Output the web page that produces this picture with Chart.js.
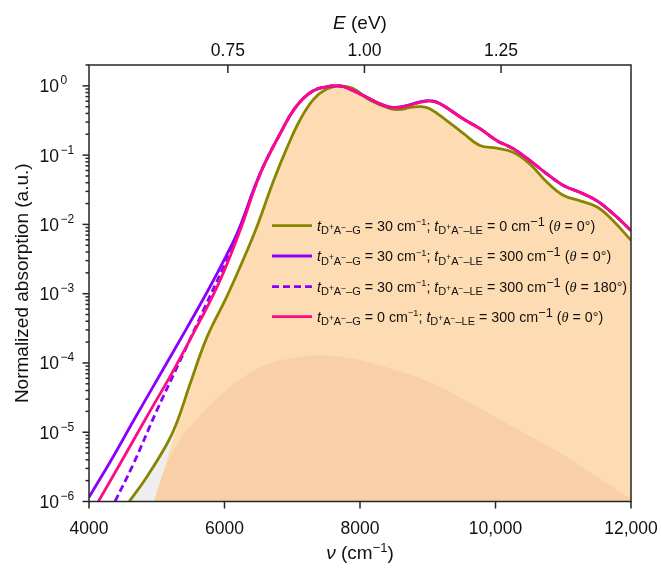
<!DOCTYPE html>
<html><head><meta charset="utf-8">
<script src="https://cdn.jsdelivr.net/npm/chart.js@4.4.1/dist/chart.umd.min.js"></script>
<style>html,body{margin:0;padding:0;background:#fff}</style>
</head><body>
<canvas id="c" width="661" height="568" style="display:block;width:661px;height:568px"></canvas>
<script>
// ---------- data (wavenumber in cm^-1, normalized absorption) ----------
const oliveNu  = [4595, 4850, 5150, 5300, 5500, 5740, 6030, 6280, 6475, 6720, 6920, 7110, 7310, 7500, 7700, 7900, 8150, 8450, 8600, 8750, 8900, 9030, 9280, 9530, 9770, 10020, 10260, 10510, 10760, 11000, 11250, 11500, 11740, 12000];
const oliveVal = [1.0e-6, 2.24e-6, 6.76e-6, 1.41e-5, 5.25e-5, 2.34e-4, 8.91e-4, 3.16e-3, 9.12e-3, 0.0417, 0.126, 0.316, 0.631, 0.891, 1.0, 0.912, 0.617, 0.468, 0.457, 0.490, 0.501, 0.468, 0.316, 0.204, 0.138, 0.126, 0.110, 0.0741, 0.0407, 0.0263, 0.0219, 0.0178, 0.0112, 0.00589];

const purpleNu  = [4000, 4359, 4654, 5048, 5442, 5786, 6032, 6204, 6524, 6819, 7065, 7311, 7557, 7650, 7754, 8049, 8295, 8443, 8600, 8886, 9033, 9180, 9526, 9772, 10018, 10264, 10510, 10756, 11003, 11249, 11495, 11741, 12000];
const purpleVal = [1.15e-6, 4.47e-6, 1.45e-5, 6.76e-5, 3.16e-4, 1.26e-3, 3.63e-3, 8.13e-3, 0.0540, 0.204, 0.515, 0.85, 0.99, 1.0, 0.977, 0.724, 0.552, 0.495, 0.497, 0.585, 0.612, 0.556, 0.333, 0.241, 0.163, 0.124, 0.0835, 0.0540, 0.0365, 0.0290, 0.0220, 0.0142, 0.00815];

const dashedNu  = [4384, 4654, 4999, 5343, 5688, 5983, 6180, 6524, 6819, 7065, 7311, 7557, 7650, 7754, 8049, 8295, 8443, 8600, 8886, 9033, 9180, 9526, 9772, 10018, 10264, 10510, 10756, 11003, 11249, 11495, 11741, 12000];
const dashedVal = [1.0e-6, 3.47e-6, 2.04e-5, 1.07e-4, 5.75e-4, 2.40e-3, 6.46e-3, 0.0530, 0.202, 0.514, 0.85, 0.99, 1.0, 0.977, 0.724, 0.551, 0.493, 0.494, 0.580, 0.608, 0.553, 0.332, 0.240, 0.162, 0.123, 0.0833, 0.0538, 0.0364, 0.0289, 0.0219, 0.0141, 0.00814];

const pinkNu  = [4138, 4457, 4851, 5245, 5639, 5934, 6229, 6524, 6819, 7065, 7311, 7557, 7650, 7754, 8049, 8295, 8443, 8600, 8886, 9033, 9180, 9526, 9772, 10018, 10264, 10510, 10756, 11003, 11249, 11495, 11741, 12000];
const pinkVal = [1.0e-6, 3.47e-6, 1.66e-5, 7.76e-5, 4.07e-4, 1.55e-3, 8.13e-3, 0.0525, 0.200, 0.513, 0.85, 0.99, 1.0, 0.977, 0.724, 0.550, 0.490, 0.490, 0.575, 0.603, 0.550, 0.331, 0.240, 0.162, 0.123, 0.0832, 0.0537, 0.0363, 0.0288, 0.0219, 0.0141, 0.00813];

// shaded components
const grayNu  = [4620, 4900, 5150, 5400, 5700];
const grayVal = [1.0e-6, 2.51e-6, 6.31e-6, 2.0e-5, 1.0e-4];
const peachNu  = [4960, 5230, 5500, 5740, 6030, 6280, 6475, 6720, 6920, 7110, 7310, 7500, 7700, 7900, 8150, 8450, 8600, 8750, 8900, 9030, 9280, 9530, 9770, 10020, 10260, 10510, 10760, 11000, 11250, 11500, 11740, 12000];
const peachVal = [1.0e-6, 7.24e-6, 5.25e-5, 2.34e-4, 8.91e-4, 3.16e-3, 9.12e-3, 0.0417, 0.126, 0.316, 0.631, 0.891, 1.0, 0.912, 0.617, 0.468, 0.457, 0.490, 0.501, 0.468, 0.316, 0.204, 0.138, 0.126, 0.110, 0.0741, 0.0407, 0.0263, 0.0219, 0.0178, 0.0112, 0.00589];
const humpNu  = [4960, 5050, 5196, 5400, 5600, 5850, 6081, 6570, 7060, 7450, 8050, 8540, 9030, 9520, 10000, 10362, 10851, 11350, 11880, 12000];
const humpVal = [1.0e-6, 1.91e-6, 4.37e-6, 9.33e-6, 1.58e-5, 2.82e-5, 4.47e-5, 9.12e-5, 1.20e-4, 1.29e-4, 1.07e-4, 7.76e-5, 5.25e-5, 3.02e-5, 1.66e-5, 1.05e-5, 5.75e-6, 2.82e-6, 1.29e-6, 1.10e-6];

// ticks
const xTickValues = [4000, 6000, 8000, 10000, 12000];
const xTickLabels = ['4000', '6000', '8000', '10,000', '12,000'];
const eTickValues = [0.75, 1.00, 1.25];
const eTickLabels = ['0.75', '1.00', '1.25'];
const yTickExponents = [0, -1, -2, -3, -4, -5, -6];

// legend content
const legendTG    = ['30', '30', '30', '0'];
const legendTLE   = ['0', '300', '300', '300'];
const legendTheta = ['0', '0', '180', '0'];

const CM_PER_EV = 8065.54;
const FONT = '"Liberation Sans", Arial, Helvetica, sans-serif';
const SERIF = '"Liberation Serif", "Times New Roman", serif';
const AXIS = '#262626';
const C_OLIVE = '#868600', C_PURPLE = '#8a00ff', C_PINK = '#ff0a84';
const C_PEACH = '#fddcb4', C_HUMP = '#f8cfa7', C_GRAY = '#eeeeee';

const pts = (xs, ys) => xs.map((x, i) => ({x: x, y: ys[i]}));
const fillDs = (label, xs, ys, color, order) => ({
  label, data: pts(xs, ys), backgroundColor: color, borderColor: 'rgba(0,0,0,0)', borderWidth: 0,
  fill: 'start', pointRadius: 0, order, tension: 0.4, xAxisID: 'x', yAxisID: 'y'
});
const lineDs = (label, xs, ys, color, order, dash) => ({
  label, data: pts(xs, ys), borderColor: color, backgroundColor: color, borderWidth: 2.8,
  borderDash: dash || [], borderCapStyle: 'butt', fill: false, pointRadius: 0, order,
  tension: 0.4, xAxisID: 'x', yAxisID: 'y'
});

function fontOf(p) {
  return (p.italic ? 'italic ' : '') + p.size + 'px ' + (p.serif ? SERIF : FONT);
}
function rich(ctx, parts, x, y, align) {
  let w = 0;
  parts.forEach(p => { ctx.font = fontOf(p); p.w = ctx.measureText(p.t).width; w += p.w; });
  let cx = align === 'center' ? x - w / 2 : x;
  ctx.textAlign = 'left';
  ctx.textBaseline = 'alphabetic';
  parts.forEach(p => { ctx.font = fontOf(p); ctx.fillText(p.t, cx, y + (p.dy || 0)); cx += p.w; });
  return w;
}

const B = 14.3, S = 11, T = 8.4;
function tSym(sub) {
  return [
    {t: 't', size: B, italic: true},
    {t: 'D', size: S, dy: 3.5},
    {t: '+', size: T, dy: -0.8},
    {t: 'A', size: S, dy: 3.5},
    {t: '\u2212', size: T, dy: -0.8},
    {t: '\u2013' + sub, size: S, dy: 3.5}
  ];
}
function legendParts(i) {
  return [].concat(
    tSym('G'),
    [{t: ' = ' + legendTG[i] + ' cm', size: B}, {t: '\u22121', size: 9.2, dy: -5.5}, {t: '; ', size: B}],
    tSym('LE'),
    [{t: ' = ' + legendTLE[i] + ' cm', size: B}, {t: '\u22121', size: 12.8, dy: -5}, {t: ' (', size: B},
     {t: '\u03B8', size: B, italic: true, serif: true}, {t: ' = ' + legendTheta[i] + '\u00B0)', size: B}]
  );
}
const legendStyles = [
  {color: C_OLIVE, dash: []},
  {color: C_PURPLE, dash: []},
  {color: C_PURPLE, dash: [7, 4]},
  {color: C_PINK, dash: []}
];

const decor = {
  id: 'decor',
  afterDraw(chart) {
    const ctx = chart.ctx;
    const {left: L, right: R, top: Tp, bottom: Bt} = chart.chartArea;
    const xs = chart.scales.x, x2 = chart.scales.x2, ys = chart.scales.y;
    ctx.save();
    // legend
    const rowY = [225.7, 256, 286.7, 316.7];
    legendStyles.forEach((st, i) => {
      ctx.beginPath();
      ctx.setLineDash(st.dash);
      ctx.lineWidth = 2.8;
      ctx.strokeStyle = st.color;
      ctx.lineCap = 'butt';
      ctx.moveTo(272, rowY[i]); ctx.lineTo(312, rowY[i]);
      ctx.stroke();
      ctx.setLineDash([]);
      ctx.fillStyle = '#111';
      rich(ctx, legendParts(i), 317, rowY[i] + 5, 'left');
    });

    // frame
    ctx.strokeStyle = AXIS;
    ctx.lineWidth = 1.5;
    ctx.setLineDash([]);
    ctx.strokeRect(L, Tp, R - L, Bt - Tp);
    const seg = (a, b, c, d) => { ctx.beginPath(); ctx.moveTo(a, b); ctx.lineTo(c, d); ctx.stroke(); };
    ctx.fillStyle = '#111';
    // bottom ticks + labels
    ctx.font = '17.5px ' + FONT;
    ctx.textAlign = 'center';
    ctx.textBaseline = 'middle';
    xTickValues.forEach((v, i) => {
      const px = xs.getPixelForValue(v);
      seg(px, Bt, px, Bt + 7);
      ctx.fillText(xTickLabels[i], px, 529);
    });
    // top (energy) ticks + labels
    eTickValues.forEach((v, i) => {
      const px = x2.getPixelForValue(v);
      seg(px, Tp, px, Tp + 8);
      ctx.fillText(eTickLabels[i], px, 51);
    });
    // y ticks
    for (let e = -6; e <= 0; e++) {
      for (let k = 1; k <= 9; k++) {
        const v = k * Math.pow(10, e);
        if (v > ys.max * 1.0001) break;
        const py = ys.getPixelForValue(v);
        seg(L - (k === 1 ? 6.5 : 3.5), py, L, py);
      }
    }
    // y labels
    yTickExponents.forEach(e => {
      const py = ys.getPixelForValue(Math.pow(10, e));
      ctx.textAlign = 'left';
      ctx.textBaseline = 'alphabetic';
      ctx.font = '17.5px ' + FONT;
      ctx.fillText('10', 39.5, py + 6.5);
      const w = ctx.measureText('10').width;
      ctx.font = '12px ' + FONT;
      ctx.fillText(e === 0 ? '0' : '\u2212' + Math.abs(e), 39.5 + w + 1.5, py - 1.5);
    });
    // axis titles
    rich(ctx, [{t: 'E', size: 19, italic: true}, {t: ' (eV)', size: 19}], (L + R) / 2, 29, 'center');
    rich(ctx, [{t: '\u03BD', size: 19, italic: true}, {t: ' (cm', size: 19}, {t: '\u22121', size: 13, dy: -7}, {t: ')', size: 19}], (L + R) / 2, 559, 'center');
    ctx.translate(28, (Tp + Bt) / 2);
    ctx.rotate(-Math.PI / 2);
    ctx.font = '19px ' + FONT;
    ctx.textAlign = 'center';
    ctx.textBaseline = 'alphabetic';
    ctx.fillText('Normalized absorption (a.u.)', 0, 0);
    ctx.restore();
  }
};

new Chart(document.getElementById('c'), {
  type: 'line',
  data: {
    datasets: [
      fillDs('total (tail)', grayNu, grayVal, C_GRAY, 10),
      fillDs('component 1', peachNu, peachVal, C_PEACH, 9),
      fillDs('component 2', humpNu, humpVal, C_HUMP, 8),
      lineDs('tG=30, tLE=0 (0°)', oliveNu, oliveVal, C_OLIVE, 4),
      lineDs('tG=30, tLE=300 (0°)', purpleNu, purpleVal, C_PURPLE, 3),
      lineDs('tG=30, tLE=300 (180°)', dashedNu, dashedVal, C_PURPLE, 2, [7, 4]),
      lineDs('tG=0, tLE=300 (0°)', pinkNu, pinkVal, C_PINK, 1)
    ]
  },
  options: {
    responsive: false,
    animation: false,
    devicePixelRatio: 1,
    layout: {padding: {left: 0, right: 30, top: 0, bottom: 0}},
    plugins: {legend: {display: false}, tooltip: {enabled: false}},
    scales: {
      x: {type: 'linear', position: 'bottom', min: 4000, max: 12000,
          ticks: {display: false}, grid: {display: false}, border: {display: false},
          afterFit(s) { s.height = 66.5; }},
      x2: {type: 'linear', position: 'top', min: 4000 / CM_PER_EV, max: 12000 / CM_PER_EV,
          ticks: {display: false}, grid: {display: false}, border: {display: false},
          afterFit(s) { s.height = 65; }},
      y: {type: 'logarithmic', min: 1e-6, max: 2,
          ticks: {display: false}, grid: {display: false}, border: {display: false},
          afterFit(s) { s.width = 89; }}
    }
  },
  plugins: [decor]
});
</script>
</body></html>
